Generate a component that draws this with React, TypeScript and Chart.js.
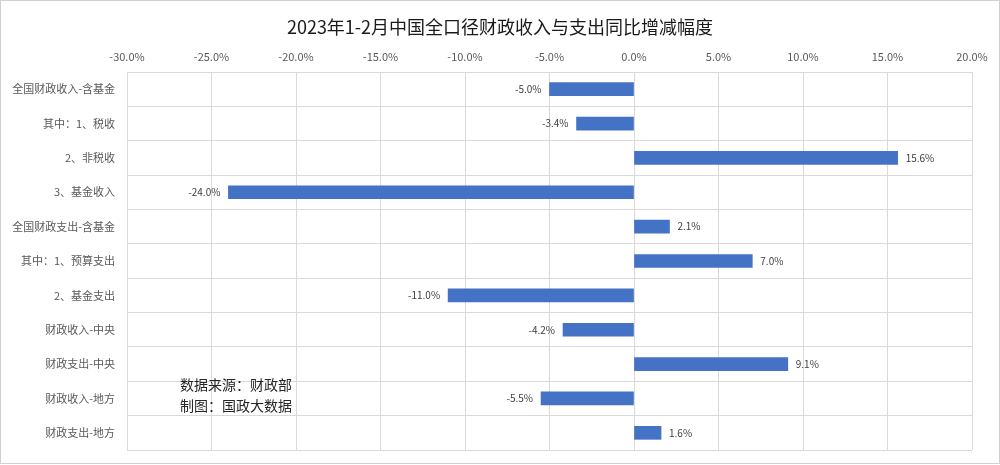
import React, { useEffect, useRef } from "react";
import { Chart, registerables } from "chart.js";

Chart.register(...registerables);

const categories = [
  "全国财政收入-含基金",
  "其中：1、税收",
  "2、非税收",
  "3、基金收入",
  "全国财政支出-含基金",
  "其中：1、预算支出",
  "2、基金支出",
  "财政收入-中央",
  "财政支出-中央",
  "财政收入-地方",
  "财政支出-地方",
];
const values = [-5.0, -3.4, 15.6, -24.0, 2.1, 7.0, -11.0, -4.2, 9.1, -5.5, 1.6];
const titleText = "2023年1-2月中国全口径财政收入与支出同比增减幅度";
const noteLines = ["数据来源：财政部", "制图：国政大数据"];

const FONT = "'Noto Sans CJK SC', 'Noto Sans', sans-serif";

export default function App() {
  const ref = useRef<HTMLCanvasElement | null>(null);
  useEffect(() => {
    if (!ref.current) return;
    const decor = {
      id: "decor",
      beforeDraw(chart: any) {
        const ctx = chart.ctx;
        ctx.save();
        ctx.fillStyle = "#ffffff";
        ctx.fillRect(0, 0, chart.width, chart.height);
        ctx.strokeStyle = "#d0d0d0";
        ctx.lineWidth = 1;
        ctx.strokeRect(0.5, 0.5, chart.width - 1, chart.height - 2);
        ctx.restore();
      },
      afterDraw(chart: any) {
        const ctx = chart.ctx;
        ctx.save();
        ctx.fillStyle = "#1a1a1a";
        ctx.font = `18px ${FONT}`;
        ctx.textAlign = "center";
        ctx.textBaseline = "middle";
        ctx.fillText(titleText, 500, 27);
        // data labels
        const meta = chart.getDatasetMeta(0);
        ctx.font = `10px ${FONT}`;
        ctx.fillStyle = "#404040";
        meta.data.forEach((bar: any, i: number) => {
          const v = values[i];
          const txt = v.toFixed(1) + "%";
          if (v >= 0) {
            ctx.textAlign = "left";
            ctx.fillText(txt, bar.x + 8, bar.y);
          } else {
            ctx.textAlign = "right";
            ctx.fillText(txt, bar.x - 8, bar.y);
          }
        });
        // note
        ctx.font = `14px ${FONT}`;
        ctx.fillStyle = "#262626";
        ctx.textAlign = "left";
        noteLines.forEach((l, i) => ctx.fillText(l, 180, 385 + i * 21));
        ctx.restore();
      },
    };
    const chart = new Chart(ref.current, {
      type: "bar",
      data: {
        labels: categories,
        datasets: [
          {
            data: values,
            backgroundColor: "#4472C4",
            barThickness: 13,
          },
        ],
      },
      options: {
        indexAxis: "y",
        responsive: false,
        animation: false,
        layout: { padding: { top: 44, left: 0, right: 28, bottom: 15 } },
        plugins: { legend: { display: false }, tooltip: { enabled: false } },
        scales: {
          x: {
            position: "top",
            min: -30,
            max: 20,
            ticks: {
              stepSize: 5,
              padding: 9,
              color: "#595959",
              font: { size: 11, family: FONT },
              callback: (v: any) => Number(v).toFixed(1) + "%",
            },
            grid: { color: "#d9d9d9", drawTicks: false },
            border: { display: false },
            afterFit: (s: any) => {
              s.height = 28;
              s.paddingLeft = 0;
              s.paddingRight = 0;
            },
          },
          y: {
            ticks: {
              padding: 12,
              color: "#595959",
              font: { size: 11, family: FONT },
            },
            grid: { color: "#d9d9d9", drawTicks: false, offset: true },
            border: { display: false },
            afterFit: (s: any) => {
              s.width = 127;
              s.paddingTop = 0;
              s.paddingBottom = 0;
            },
          },
        },
      },
      plugins: [decor],
    });
    return () => chart.destroy();
  }, []);
  return (
    <div style={{ position: "fixed", left: 0, top: 0, width: 1000, height: 465 }}>
      <canvas ref={ref} width={1000} height={465} style={{ display: "block" }} />
    </div>
  );
}
